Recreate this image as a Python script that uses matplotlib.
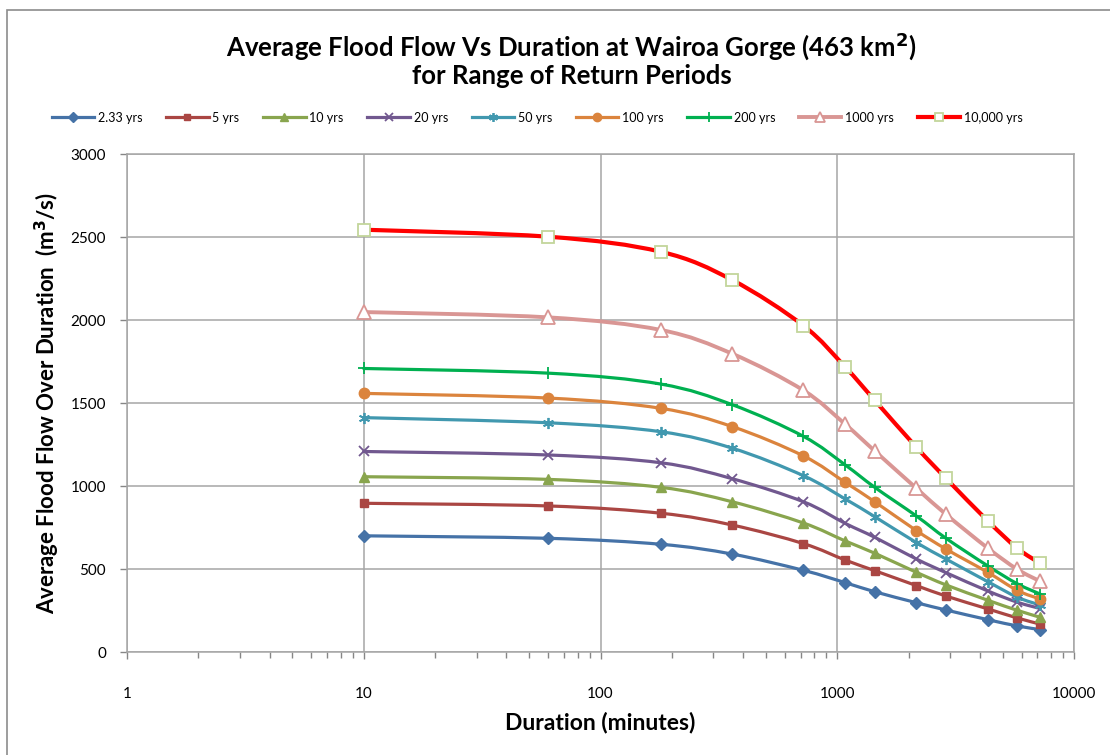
import numpy as np
import matplotlib.pyplot as plt
from matplotlib.path import Path
from matplotlib.patches import PathPatch, Rectangle
from matplotlib.lines import Line2D

plt.rcParams['font.family'] = ['Lato', 'DejaVu Sans']

# durations in minutes (10 min, 1 h, 3 h, 6 h, 12 h, 18 h, 24 h, 36 h, 48 h, 72 h, 96 h, 120 h)
duration = [10, 60, 180, 360, 720, 1080, 1440, 2160, 2880, 4320, 5760, 7200]

q_2_33 = [700, 685, 649, 590, 492, 418, 363, 297, 253, 195, 157, 135]
q_5 = [896, 880, 836, 765, 653, 554, 490, 400, 337, 260, 205, 168]
q_10 = [1056, 1040, 992, 905, 777, 669, 595, 480, 404, 312, 251, 209]
q_20 = [1208, 1187, 1140, 1044, 905, 775, 691, 560, 478, 368, 300, 262]
q_50 = [1412, 1381, 1327, 1228, 1062, 922, 815, 659, 560, 424, 330, 283]
q_100 = [1558, 1530, 1468, 1358, 1181, 1022, 905, 731, 620, 480, 371, 319]
q_200 = [1708, 1680, 1614, 1490, 1299, 1127, 992, 819, 685, 519, 411, 349]
q_1000 = [2048, 2016, 1940, 1797, 1576, 1372, 1211, 986, 829, 626, 498, 426]
q_10000 = [2544, 2502, 2411, 2241, 1966, 1717, 1516, 1233, 1046, 790, 625, 534]

labels = ['2.33 yrs', '5 yrs', '10 yrs', '20 yrs', '50 yrs', '100 yrs', '200 yrs', '1000 yrs', '10,000 yrs']
series = [q_2_33, q_5, q_10, q_20, q_50, q_100, q_200, q_1000, q_10000]

# line colour, marker, marker face, marker edge, marker size, line width
styles = [
    ('#4572A7', 'D', '#4572A7', '#4572A7', 6.5, 2.3),
    ('#AA4643', 's', '#AA4643', '#AA4643', 6, 2.3),
    ('#89A54E', '^', '#89A54E', '#89A54E', 7.5, 2.3),
    ('#71588F', 'x', '#71588F', '#71588F', 7, 2.3),
    ('#4198AF', (6, 2, 0), '#4198AF', '#4198AF', 8, 2.3),
    ('#DB843D', 'o', '#DB843D', '#DB843D', 7.5, 2.3),
    ('#00B050', '+', '#00B050', '#00B050', 9, 2.3),
    ('#D99694', '^', 'white', '#D99694', 9.5, 2.8),
    ('#FF0000', 's', 'white', '#C3D69B', 8, 3.0),
]


def smooth_path(xs, ys):
    # Catmull-Rom style bezier through the points, built in log10(x) space
    lx = np.log10(xs)
    ys = np.asarray(ys, float)
    n = len(lx)
    verts = [(xs[0], ys[0])]
    codes = [Path.MOVETO]
    for i in range(n - 1):
        i0 = max(i - 1, 0)
        i3 = min(i + 2, n - 1)
        c1x = lx[i] + (lx[i + 1] - lx[i0]) / 6
        c1y = ys[i] + (ys[i + 1] - ys[i0]) / 6
        c2x = lx[i + 1] - (lx[i3] - lx[i]) / 6
        c2y = ys[i + 1] - (ys[i3] - ys[i]) / 6
        verts += [(10 ** c1x, c1y), (10 ** c2x, c2y), (xs[i + 1], ys[i + 1])]
        codes += [Path.CURVE4] * 3
    return Path(verts, codes)


fig = plt.figure(figsize=(11.1, 7.55), dpi=100)
ax = fig.add_axes([0.1144, 0.1364, 0.8532, 0.6596])

handles = []
for ys, lab, (col, mk, mfc, mec, ms, lw) in zip(series, labels, styles):
    patch = PathPatch(smooth_path(duration, ys), facecolor='none', edgecolor=col,
                      lw=lw, capstyle='round', joinstyle='round')
    ax.add_patch(patch)
    mew = 1.3 if mk in ('x', '+', (6, 2, 0)) or mfc == 'white' else 1
    ax.plot(duration, ys, linestyle='none', marker=mk, markersize=ms,
            markerfacecolor=mfc, markeredgecolor=mec, markeredgewidth=mew)
    handles.append(Line2D([], [], color=col, lw=lw, marker=mk, markersize=ms * 0.8,
                          markerfacecolor=mfc, markeredgecolor=mec, markeredgewidth=mew,
                          label=lab))

ax.set_xscale('log')
ax.set_xlim(1, 10000)
ax.set_ylim(0, 3000)
ax.set_yticks(range(0, 3001, 500))
ax.set_xticks([1, 10, 100, 1000, 10000])
ax.set_xticklabels(['1', '10', '100', '1000', '10000'])
ax.grid(True, which='major', color='#A6A6A6', lw=1.1)
ax.set_axisbelow(True)
for s in ax.spines.values():
    s.set_color('#A6A6A6')
    s.set_linewidth(1.1)
ax.tick_params(axis='both', which='major', labelsize=11, colors='#868686',
               labelcolor='black', length=5, width=1)
ax.tick_params(axis='x', which='major', pad=20)
ax.tick_params(axis='y', which='major', pad=10)
ax.tick_params(axis='x', which='minor', length=4, width=1, colors='#868686')
ax.xaxis.set_minor_formatter(plt.NullFormatter())

ax.set_xlabel('Duration (minutes)', fontsize=16.5, fontweight='bold', labelpad=8)
ax.set_ylabel('Average Flood Flow Over Duration  (m$^{\\mathbf{3}}$/s)', fontsize=16,
              fontweight='bold', labelpad=6)

fig.text(0.515, 0.939, 'Average Flood Flow Vs Duration at Wairoa Gorge (463 km$^{\\mathbf{2}}$)',
         ha='center', va='center', fontsize=18.5, fontweight='bold')
fig.text(0.515, 0.899, 'for Range of Return Periods',
         ha='center', va='center', fontsize=18.5, fontweight='bold')

fig.legend(handles=handles, loc='center', bbox_to_anchor=(0.484, 0.844), ncol=9,
           frameon=False, fontsize=9, handlelength=3.4, handletextpad=0.3,
           columnspacing=1.9)

# chart area border
fig.patches.append(Rectangle((7 / 1110, -0.05), 1.2, 1 - 10 / 755 + 0.05,
                             transform=fig.transFigure, fill=False,
                             edgecolor='#8C8C8C', lw=1.2))

fig.savefig('out.png', dpi=100)
